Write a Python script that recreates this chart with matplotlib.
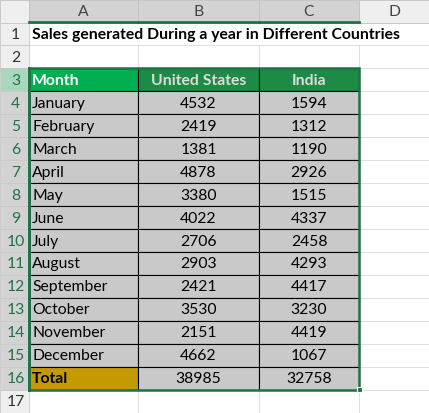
import matplotlib
matplotlib.use('Agg')
import matplotlib.pyplot as plt
from matplotlib.patches import Rectangle

title = 'Sales generated During a year in Different Countries'
headers = ['Month', 'United States', 'India']
months = ['January', 'February', 'March', 'April', 'May', 'June', 'July',
          'August', 'September', 'October', 'November', 'December']
us_sales = [4532, 2419, 1381, 4878, 3380, 4022, 2706, 2903, 2421, 3530, 2151, 4662]
india_sales = [1594, 1312, 1190, 2926, 1515, 4337, 2458, 4293, 4417, 3230, 4419, 1067]
col_letters = ['A', 'B', 'C', 'D']

# sheet geometry in pixels
W, H = 429, 413
col_edges = [0, 29, 138, 259, 359, 429]   # row-number col, A, B, C, D
head_h = 22.5
row_h = 22.95
n_rows = 17

def row_top(r):
    return head_h + (r - 1) * row_h

fig = plt.figure(figsize=(W / 100, H / 100), dpi=100)
ax = fig.add_axes([0, 0, 1, 1])
ax.set_xlim(0, W)
ax.set_ylim(H, 0)
ax.axis('off')

font = 'Lato'
fs = 11.3
green = '#217346'

# light gridlines for empty cells (underneath everything)
for r in range(1, n_rows + 1):
    y = row_top(r) + row_h
    ax.plot([col_edges[1], W], [y, y], color='#d9d9d9', lw=0.6, zorder=0)
for x in col_edges[2:5]:
    ax.plot([x, x], [row_top(2), H], color='#d9d9d9', lw=0.6, zorder=0)

# column headers
ax.add_patch(Rectangle((0, 0), col_edges[1], head_h, facecolor='#efefef',
                       edgecolor='#c0c0c0', lw=0.6))
for i, letter in enumerate(col_letters):
    x0, x1 = col_edges[i + 1], col_edges[i + 2]
    sel = letter != 'D'
    ax.add_patch(Rectangle((x0, 0), x1 - x0, head_h,
                           facecolor='#d3d3d3' if sel else '#efefef',
                           edgecolor='#c0c0c0', lw=0.6))
    ax.text((x0 + x1) / 2, head_h / 2 + 1, letter, ha='center', va='center',
            fontsize=fs, family=font, color='#444444')
    if sel:
        ax.plot([x0, x1], [head_h - 1, head_h - 1], color=green, lw=2)

# row numbers
for r in range(1, n_rows + 1):
    y0 = row_top(r)
    if r == 3:
        fc, tc = '#a9d7bb', green
    elif 4 <= r <= 16:
        fc, tc = '#d3d3d3', green
    else:
        fc, tc = '#efefef', '#333333'
    ax.add_patch(Rectangle((0, y0), col_edges[1], row_h, facecolor=fc,
                           edgecolor='#c8c8c8', lw=0.6))
    ax.text(col_edges[1] / 2 + 1, y0 + row_h / 2 + 1, str(r), ha='center',
            va='center', fontsize=fs, family=font, color=tc)
ax.plot([col_edges[1], col_edges[1]], [row_top(3), row_top(17)], color=green, lw=2)

# title
ax.text(col_edges[1] + 3, row_top(1) + row_h / 2 + 1, title, ha='left',
        va='center', fontsize=fs, family=font, fontweight='bold', color='black')

# header row
head_colors = ['#00b050', '#1b8b45', '#1b8b45']
head_text = ['white', '#dcdcdc', '#dcdcdc']
y0 = row_top(3)
for j, h in enumerate(headers):
    x0, x1 = col_edges[j + 1], col_edges[j + 2]
    ax.add_patch(Rectangle((x0, y0), x1 - x0, row_h, facecolor=head_colors[j],
                           edgecolor='black', lw=0.8))
    if j == 0:
        ax.text(x0 + 3, y0 + row_h / 2 + 1, h, ha='left', va='center',
                fontsize=fs, family=font, fontweight='bold', color=head_text[j])
    else:
        ax.text((x0 + x1) / 2, y0 + row_h / 2 + 1, h, ha='center', va='center',
                fontsize=fs, family=font, fontweight='bold', color=head_text[j])

# data rows + total
rows = [(m, u, i) for m, u, i in zip(months, us_sales, india_sales)]
rows.append(('Total', sum(us_sales), sum(india_sales)))
for k, (m, u, i) in enumerate(rows):
    y0 = row_top(4 + k)
    is_total = m == 'Total'
    for j, val in enumerate([m, u, i]):
        x0, x1 = col_edges[j + 1], col_edges[j + 2]
        fc = '#c59a00' if (is_total and j == 0) else '#c9c9c9'
        ax.add_patch(Rectangle((x0, y0), x1 - x0, row_h, facecolor=fc,
                               edgecolor='black', lw=0.8))
        if j == 0:
            ax.text(x0 + 3, y0 + row_h / 2 + 1, val, ha='left', va='center',
                    fontsize=fs, family=font, color='black',
                    fontweight='bold' if is_total else 'normal')
        else:
            ax.text((x0 + x1) / 2, y0 + row_h / 2 + 1, str(val), ha='center',
                    va='center', fontsize=fs, family=font, color='black')

# selection border
sx0, sx1 = col_edges[1], col_edges[4]
sy0, sy1 = row_top(3), row_top(17)
ax.add_patch(Rectangle((sx0, sy0), sx1 - sx0, sy1 - sy0, facecolor='none',
                       edgecolor=green, lw=1.8))
ax.add_patch(Rectangle((sx1 - 2.5, sy1 - 2.5), 5, 5, facecolor=green,
                       edgecolor='white', lw=0.8))

fig.savefig('out.png', dpi=100)
